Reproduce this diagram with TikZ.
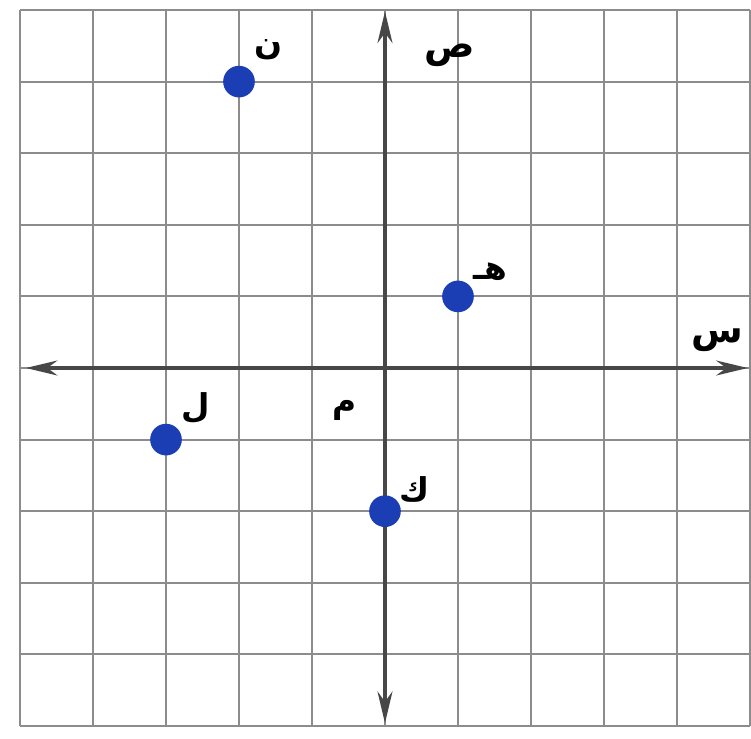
\documentclass[tikz,border=0pt]{standalone}
\usepackage{fontspec}
\usepackage{tikz}
\usetikzlibrary{arrows.meta}
\TeXXeTstate=1
\newfontfamily\arabicfont[Script=Arabic]{DejaVu Sans}
\definecolor{pointblue}{RGB}{28,62,180}
\colorlet{gridgray}{black!45}
\colorlet{axisdark}{black!72}

\begin{document}
\begin{tikzpicture}[x=2.19cm,y=2.148cm,
    every node/.style={font=\arabicfont\bfseries\fontsize{28}{32}\selectfont,inner sep=0pt},
    pt/.style={circle,fill=pointblue,minimum size=0.95cm},
    axislbl/.style={font=\arabicfont\bfseries\fontsize{32}{36}\selectfont},
    axisline/.style={line width=2.6pt,draw=axisdark,{Stealth[length=0.95cm,width=0.45cm]}-{Stealth[length=0.95cm,width=0.45cm]}}]
    \useasboundingbox (-5.274,-5.18) rectangle (5.014,5.14);
    \fill[white] (-5.274,-5.18) rectangle (5.014,5.14);
    \draw[gridgray,line width=1.6pt,step=1] (-5,-5) grid (5,5);
    % axes
    \coordinate (xleft) at (-4.92,0);
    \coordinate (xright) at (4.97,0);
    \coordinate (ytop) at (0,4.98);
    \coordinate (ybot) at (0,-4.96);
    \draw[axisline] (xleft)--(xright);
    \draw[axisline] (ybot)--(ytop);
    \node[axislbl] (xlbl) at (4.56,0.39) {\beginR س\endR};
    \node[axislbl] (ylbl) at (0.89,4.37) {\beginR ص\endR};
    \node (origin) at (-0.55,-0.59) {\beginR م\endR};
    % points
    \node[pt] (nun) at (-2,4) {};
    \node[pt] (ha) at (1,1) {};
    \node[pt] (lam) at (-3,-1) {};
    \node[pt] (kaf) at (0,-2) {};
    \node (nunlbl) at (-1.60,4.44) {\beginR ن\endR};
    \node (halbl) at (1.44,1.34) {\beginR هـ\endR};
    \node (lamlbl) at (-2.59,-0.56) {\beginR ل\endR};
    \node (kaflbl) at (0.41,-1.70) {\beginR ك\endR};
  \end{tikzpicture}
\end{document}
